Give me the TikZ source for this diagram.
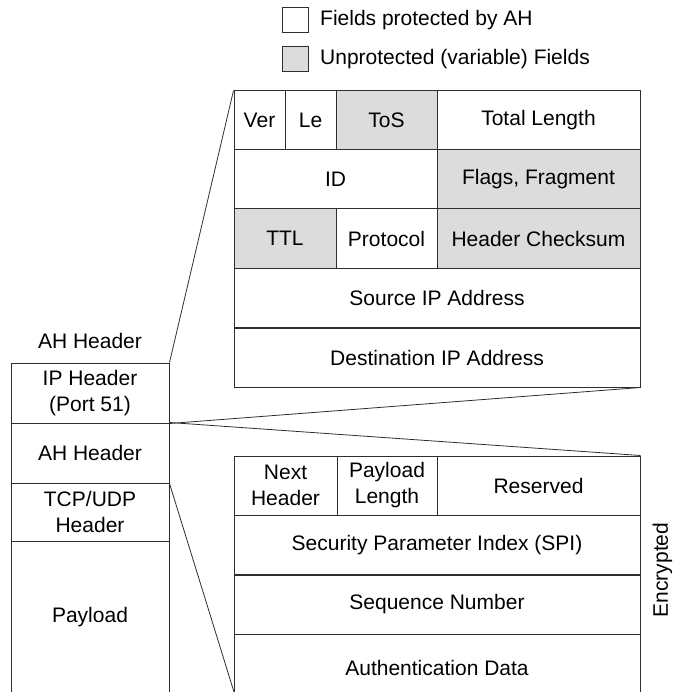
\documentclass[tikz,border=0pt]{standalone}
\usepackage{fontspec}
\setmainfont{Liberation Sans}
\usepackage{xcolor}
\usetikzlibrary{positioning}
\definecolor{FieldLine}{HTML}{2E2E2E}
\definecolor{FieldGray}{HTML}{DCDCDC}
\tikzset{
    % Packet field boxes
    field/.style={
        rectangle,
        draw=FieldLine,
        fill=white,
        line width=1pt,
        minimum height=59pt,
        inner sep=0pt,
        align=center,
        font=\fontsize{21}{26}\selectfont
    },
    varfield/.style={
        field,
        fill=FieldGray
    },
    % Legend squares
    legendbox/.style={
        rectangle,
        draw=FieldLine,
        line width=1pt,
        minimum width=26pt,
        minimum height=25pt,
        inner sep=0pt
    },
    % Free text
    caption/.style={
        inner sep=0pt,
        font=\fontsize{21}{26}\selectfont
    },
    % Zoom lines between stack and detail boxes
    zoomline/.style={
        draw=FieldLine,
        line width=0.8pt
    }
}

\begin{document}
\begin{tikzpicture}[x=1pt, y=-1pt]
    \useasboundingbox (0,0) rectangle (673,692);

    % Legend
    \node[legendbox, fill=white] (lgprot) at (295,20.5) {};
    \node[caption, anchor=west] (lgprottxt) at (320,20.5) {Fields protected by AH};
    \node[legendbox, fill=FieldGray] (lgvar) at (295,59.5) {};
    \node[caption, anchor=west] (lgvartxt) at (320,59.5) {Unprotected (variable) Fields};

    % IP header detail
    \node[field, minimum width=51pt] (ver) at (259.5,120.5) {Ver};
    \node[field, minimum width=51pt] (le) at (310.5,120.5) {Le};
    \node[varfield, minimum width=101pt] (tos) at (386.5,120.5) {ToS};
    \node[field, minimum width=203pt] (totlen) at (538.5,120.5) {Total Length};
    \node[field, minimum width=203pt] (id) at (335.5,179.5) {ID};
    \node[varfield, minimum width=203pt] (flags) at (538.5,179.5) {Flags, Fragment};
    \node[varfield, minimum width=102pt] (ttl) at (285,238.5) {TTL};
    \node[field, minimum width=101pt] (proto) at (386.5,238.5) {Protocol};
    \node[varfield, minimum width=203pt] (chksum) at (538.5,238.5) {Header Checksum};
    \node[field, minimum width=406pt] (srcip) at (437,298) {Source IP Address};
    \node[field, minimum width=406pt] (dstip) at (437,357.5) {Destination IP Address};

    % AH header detail
    \node[field, minimum width=103pt] (nexthdr) at (285.5,485.5) {Next\\Header};
    \node[field, minimum width=100pt] (paylen) at (387,485.5) {Payload\\Length};
    \node[field, minimum width=203pt] (reserved) at (538.5,485.5) {Reserved};
    \node[field, minimum width=406pt] (spi) at (437,545) {Security Parameter Index (SPI)};
    \node[field, minimum width=406pt] (seqnum) at (437,604.5) {Sequence Number};
    \node[field, minimum width=406pt, minimum height=68pt] (authdata) at (437,668) {Authentication Data};
    \node[caption, rotate=90] (encrypted) at (662.5,570) {Encrypted};

    % Packet stack
    \node[caption] (stacklabel) at (90,341) {AH Header};
    \node[field, minimum width=158pt, minimum height=60pt] (iphdr) at (90,393) {IP Header\\(Port 51)};
    \node[field, minimum width=158pt, minimum height=60pt] (ahhdr) at (90,453) {AH Header};
    \node[field, minimum width=158pt, minimum height=58pt] (tcphdr) at (90,512) {TCP/UDP\\Header};
    \node[field, minimum width=158pt, minimum height=161pt] (payload) at (90,621.5) {\raisebox{14pt}{Payload}};

    % Zoom lines
    \coordinate (authcut) at (234,692);
    \draw[zoomline] (iphdr.north east) -- (ver.north west);
    \draw[zoomline] (iphdr.south east) -- (dstip.south east);
    \draw[zoomline] (ahhdr.north east) -- (reserved.north east);
    \draw[zoomline] (ahhdr.south east) -- (authcut);
\end{tikzpicture}
\end{document}
